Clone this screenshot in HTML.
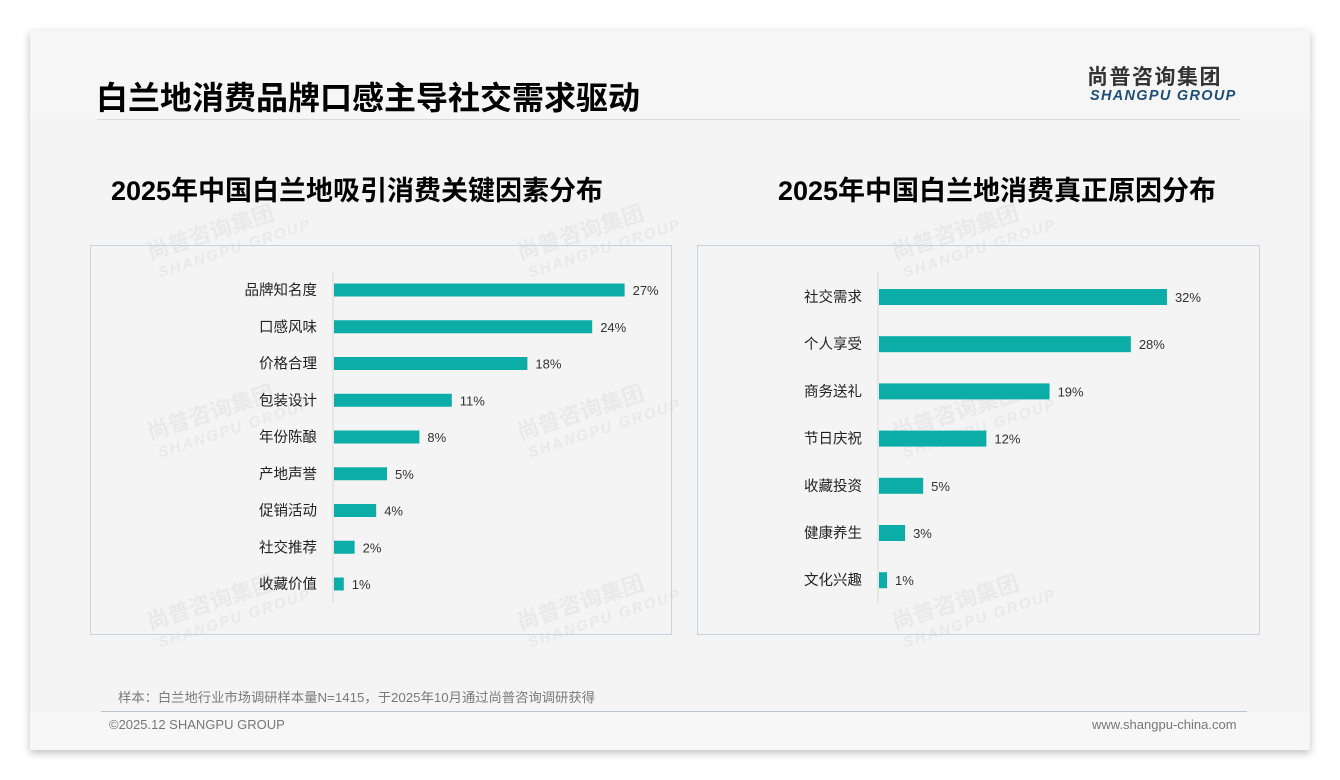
<!DOCTYPE html>
<html><head><meta charset="utf-8">
<style>
body{margin:0;width:1340px;height:780px;background:#fff;font-family:"Liberation Sans","Noto Sans CJK SC",sans-serif;position:relative;overflow:hidden}
#card{position:absolute;left:30px;top:30px;width:1280px;height:720px;background:#f4f4f4;box-shadow:0 3px 8px rgba(0,0,0,0.25)}
.abs{position:absolute;line-height:1;white-space:nowrap}
</style></head><body>
<div id="card">
 <div class="abs" style="left:0;top:0;width:1280px;height:88px;background:#f6f6f6"></div>
 <div class="abs" style="left:66px;top:52px;font-size:32px;font-weight:bold;color:#000;letter-spacing:0px">白兰地消费品牌口感主导社交需求驱动</div>
 <div class="abs" style="left:67px;top:89px;width:1143px;height:1px;background:#dcdcdc"></div>
 <div class="abs" style="left:1057px;top:37px;font-size:21px;font-weight:bold;color:#333;letter-spacing:1.5px">尚普咨询集团</div>
 <div class="abs" style="left:1060px;top:59px;font-size:14.5px;font-weight:bold;font-style:italic;color:#1f4e79;letter-spacing:1.3px">SHANGPU GROUP</div>
 <div class="abs" style="left:0;top:682px;width:1280px;height:38px;background:#f7f7f7"></div>
 <div class="abs" style="left:88px;top:661px;font-size:13.3px;color:#7a7a7a">样本：白兰地行业市场调研样本量N=1415，于2025年10月通过尚普咨询调研获得</div>
 <div class="abs" style="left:71px;top:681px;width:1146px;height:1px;background:#b8c4d0"></div>
 <div class="abs" style="left:79px;top:688px;font-size:13px;color:#777">©2025.12 SHANGPU GROUP</div>
 <div class="abs" style="left:1062px;top:688px;font-size:13px;color:#777">www.shangpu-china.com</div>
</div>
<svg id="chart" class="abs" style="left:0;top:0" width="1340" height="780"></svg>
<script>
const leftCats=["品牌知名度","口感风味","价格合理","包装设计","年份陈酿","产地声誉","促销活动","社交推荐","收藏价值"];
const leftVals=[27,24,18,11,8,5,4,2,1];
const rightCats=["社交需求","个人享受","商务送礼","节日庆祝","收藏投资","健康养生","文化兴趣"];
const rightVals=[32,28,19,12,5,3,1];
const NS="http://www.w3.org/2000/svg";
const svg=document.getElementById('chart');
function mk(tag,attrs,txt){const e=document.createElementNS(NS,tag);for(const k in attrs)e.setAttribute(k,attrs[k]);if(txt!==undefined)e.textContent=txt;svg.appendChild(e);return e;}
const wm=[[150,260],[520,260],[895,260],[150,440],[520,440],[895,440],[150,630],[520,630],[895,630]];
wm.forEach(p=>{
 const g=mk('text',{x:p[0],y:p[1],transform:`rotate(-18 ${p[0]} ${p[1]})`,'font-size':22,'font-weight':'bold',fill:'#e9e9e9','font-family':'Liberation Sans, Noto Sans CJK SC, sans-serif'},'尚普咨询集团');
 
 
 const g2=mk('text',{x:p[0]+4,y:p[1]+20,transform:`rotate(-18 ${p[0]} ${p[1]})`,'font-size':15,'font-weight':'bold','font-style':'italic',fill:'#e9e9e9','letter-spacing':2,'font-family':'Liberation Sans, sans-serif'},'SHANGPU GROUP');
 
 
});
function chart(o){
 const box=mk('rect',{x:o.bx,y:245.5,width:o.bw,height:389,fill:'none',stroke:'#c5d3e2','stroke-width':1});
 
 
 const t=mk('text',{x:o.tx,y:200,'text-anchor':'middle','font-size':27,'font-weight':'bold',fill:'#000','font-family':'Liberation Sans, Noto Sans CJK SC, sans-serif'},o.title);
 
 
 const ax=mk('line',{x1:o.x0,x2:o.x0,y1:272,y2:603,stroke:'#d8d8d8','stroke-width':1});
 
 
 const xs=v=>o.x0+v*o.k;
 const ys=i=>o.y0+i*o.step;
 o.cats.forEach((c,i)=>{
  const y=ys(i),v=o.vals[i];
  const l=mk('text',{x:o.x0-16,y:y+5,'text-anchor':'end','font-size':14.5,fill:'#222','font-family':'Liberation Sans, Noto Sans CJK SC, sans-serif'},c);
  
  
  const r=mk('rect',{x:o.x0+1,y:y-o.bh/2,width:xs(v)-o.x0-1,height:o.bh,fill:'#0bada6'});
  
  
  const vl=mk('text',{x:xs(v)+8,y:y+5,'font-size':13,fill:'#333','font-family':'Liberation Sans, sans-serif'},v+'%');
  
  
 });
}
chart({name:'left-chart',bx:90.5,bw:581,tx:357,title:'2025年中国白兰地吸引消费关键因素分布',x0:333,k:10.8,y0:290,step:36.75,bh:13,cats:leftCats,vals:leftVals});
chart({name:'right-chart',bx:697.5,bw:562,tx:997,title:'2025年中国白兰地消费真正原因分布',x0:878,k:9.03,y0:297,step:47.2,bh:16,cats:rightCats,vals:rightVals});
</script>
</body></html>
